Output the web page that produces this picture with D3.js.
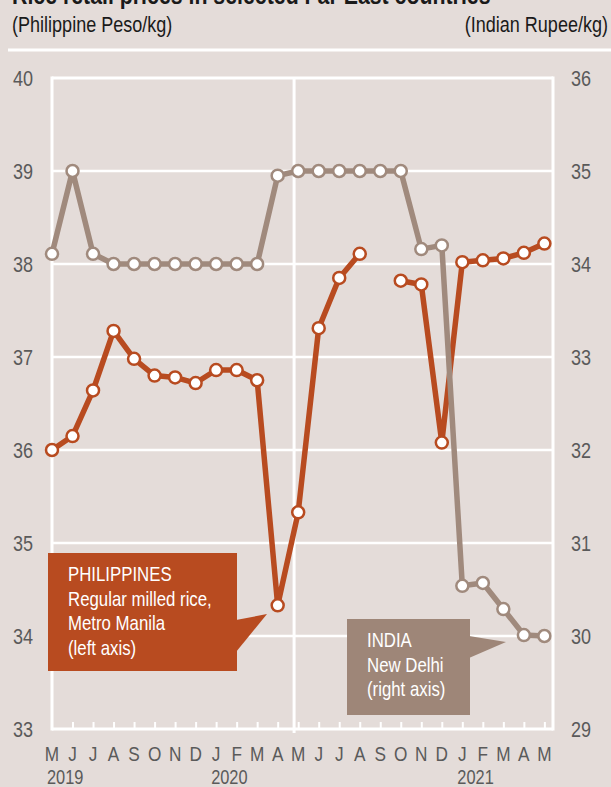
<!DOCTYPE html>
<html>
<head>
<meta charset="utf-8">
<script src="https://cdn.jsdelivr.net/npm/d3@7"></script>
<style>
  html, body { margin: 0; padding: 0; background: #e4dcd9; }
  svg { display: block; font-family: "Liberation Sans", Arial, sans-serif; }
</style>
</head>
<body>
<div id="chart"></div>
<script>
// month labels, May 2019 .. May 2021
const months = ["M","J","J","A","S","O","N","D","J","F","M","A","M","J","J","A","S","O","N","D","J","F","M","A","M"];
const years = [
  {label: "2019", index: 0},
  {label: "2020", index: 8},
  {label: "2021", index: 20}
];
// Philippines, regular milled rice, Metro Manila (PHP/kg, left axis); null = no data
const philippines = [36.00, 36.15, 36.64, 37.28, 36.98, 36.80, 36.78, 36.72, 36.86, 36.86, 36.75, 34.33,
  35.33, 37.31, 37.85, 38.11, null, 37.82, 37.78, 36.08, 38.02, 38.04, 38.06, 38.12, 38.22];
// India, New Delhi (INR/kg, right axis)
const india = [34.11, 35.00, 34.11, 34.00, 34.00, 34.00, 34.00, 34.00, 34.00, 34.00, 34.00, 34.95,
  35.00, 35.00, 35.00, 35.00, 35.00, 35.00, 34.16, 34.20, 30.54, 30.57, 30.29, 30.01, 30.00];
const leftTicks = [33, 34, 35, 36, 37, 38, 39, 40];
const rightTicks = [29, 30, 31, 32, 33, 34, 35, 36];
const dividerAt = 11.8; // vertical separator

const W = 611, H = 787;
const plot = {left: 52, right: 553, top: 78, bottom: 729};
const colPH = "#b84b20", colIN = "#a08a7d", bg = "#e4dcd9";
const squeeze = 0.82; // narrow font look (no condensed face installed)

const svg = d3.select("#chart").append("svg")
  .attr("width", W).attr("height", H);

svg.append("rect").attr("width", W).attr("height", H).attr("fill", bg);

const x = d3.scaleLinear().domain([0, 24.42]).range([plot.left, plot.right]);
const yL = d3.scaleLinear().domain([33, 40]).range([plot.bottom, plot.top]);
const yR = d3.scaleLinear().domain([29, 36]).range([plot.bottom, plot.top]);

// narrow text placed at (px, py)
function ntext(parent, px, py, str) {
  return parent.append("text")
    .attr("transform", `translate(${px},${py}) scale(${squeeze},1)`)
    .text(str);
}

// header (title is cropped at the top of the picture)
ntext(svg, 12, 4, "Rice retail prices in selected Far East countries")
  .attr("font-size", 26).attr("font-weight", "bold").attr("fill", "#1a1a1a");
ntext(svg, 12, 32, "(Philippine Peso/kg)")
  .attr("font-size", 22).attr("fill", "#1a1a1a");
ntext(svg, 608, 32, "(Indian Rupee/kg)")
  .attr("text-anchor", "end").attr("font-size", 22).attr("fill", "#1a1a1a");
svg.append("line").attr("x1", 8).attr("x2", W).attr("y1", 50).attr("y2", 50)
  .attr("stroke", "#fff").attr("stroke-width", 3);

// grid
const grid = svg.append("g").attr("stroke", "#fff");
grid.selectAll("line.h").data(leftTicks).enter().append("line")
  .attr("class", "h")
  .attr("x1", plot.left).attr("x2", plot.right)
  .attr("y1", d => yL(d)).attr("y2", d => yL(d))
  .attr("stroke-width", d => (d === 33 || d === 40) ? 3 : 2.5);
grid.selectAll("line.v").data([0, 24.42]).enter().append("line")
  .attr("class", "v")
  .attr("x1", d => x(d)).attr("x2", d => x(d))
  .attr("y1", plot.top - 1.5).attr("y2", plot.bottom + 1.5)
  .attr("stroke-width", 3);
grid.append("line")
  .attr("x1", x(dividerAt)).attr("x2", x(dividerAt))
  .attr("y1", plot.top).attr("y2", plot.bottom + 4)
  .attr("stroke-width", 3);

// bottom axis ticks pointing up
const xAxis = d3.axisTop(x).tickValues(d3.range(1, months.length)).tickSize(7).tickFormat("");
const gx = svg.append("g").attr("transform", `translate(0,${plot.bottom})`).call(xAxis);
gx.select(".domain").remove();
gx.selectAll(".tick line").attr("stroke", "#fff").attr("stroke-width", 2);

// month and year labels
const gm = svg.append("g").attr("font-size", 21).attr("fill", "#5a5a5a").attr("text-anchor", "middle");
months.forEach((m, i) => ntext(gm, x(i), 761, m));
const gy = svg.append("g").attr("font-size", 20).attr("fill", "#5a5a5a");
years.forEach(d => ntext(gy, x(d.index) - 5, 784, d.label));

// y labels
const gl = svg.append("g").attr("font-size", 22).attr("fill", "#5a5a5a").attr("text-anchor", "end");
leftTicks.forEach(v => ntext(gl, 33, yL(v) + 8, v));
const gr = svg.append("g").attr("font-size", 22).attr("fill", "#5a5a5a");
rightTicks.forEach(v => ntext(gr, 571, yR(v) + 8, v));

// series
function drawSeries(values, y, color) {
  const pts = values.map((v, i) => ({i, v}));
  const line = d3.line().defined(d => d.v != null).x(d => x(d.i)).y(d => y(d.v));
  const g = svg.append("g");
  g.append("path").datum(pts)
    .attr("fill", "none").attr("stroke", color).attr("stroke-width", 5.5)
    .attr("stroke-linejoin", "round")
    .attr("d", line);
  g.selectAll("circle").data(pts.filter(d => d.v != null)).enter().append("circle")
    .attr("cx", d => x(d.i)).attr("cy", d => y(d.v)).attr("r", 6)
    .attr("fill", "#fff").attr("stroke", color).attr("stroke-width", 2.5);
}
drawSeries(philippines, yL, colPH);
drawSeries(india, yR, colIN);

// callouts
function callout(box, tip, lines, color) {
  const g = svg.append("g");
  g.append("rect").attr("x", box.x).attr("y", box.y).attr("width", box.w).attr("height", box.h)
    .attr("fill", color);
  g.append("path")
    .attr("d", `M${box.x + box.w - 1},${tip.y0}L${tip.x},${tip.y}L${box.x + box.w - 1},${tip.y1}Z`)
    .attr("fill", color);
  const gt = g.append("g").attr("font-size", 20.5).attr("fill", "#fff");
  lines.forEach((s, i) => ntext(gt, box.x + 20, box.y + 28 + i * 24.5, s));
}
callout({x: 48, y: 553, w: 189, h: 118}, {x: 267, y: 614, y0: 620, y1: 652},
  ["PHILIPPINES", "Regular milled rice,", "Metro Manila", "(left axis)"], colPH);
callout({x: 347, y: 619, w: 123, h: 96}, {x: 506, y: 642, y0: 636, y1: 658},
  ["INDIA", "New Delhi", "(right axis)"], "#9e8678");
</script>
</body>
</html>
